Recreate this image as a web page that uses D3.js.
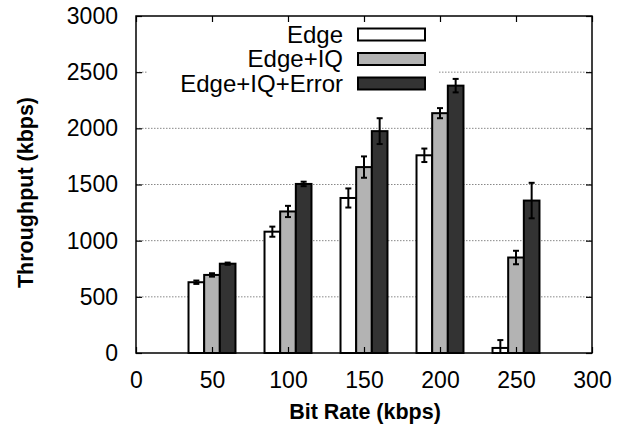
<!DOCTYPE html>
<html><head><meta charset="utf-8">
<script src="https://cdn.jsdelivr.net/npm/d3@7"></script>
<style>html,body{margin:0;padding:0;background:#fff;}svg{display:block;}</style>
</head><body>
<svg id="chart" width="618" height="428"></svg>
<script>
const categories = [50, 100, 150, 200, 250];
const seriesNames = ["Edge", "Edge+IQ", "Edge+IQ+Error"];
const edge = [630, 1080, 1380, 1760, 45];
const edgeErr = [15, 45, 85, 60, 70];
const edgeIQ = [695, 1260, 1655, 2135, 850];
const edgeIQErr = [15, 50, 95, 45, 60];
const edgeIQError = [795, 1505, 1975, 2380, 1357];
const edgeIQErrorErr = [10, 20, 115, 60, 158];
const xTicks = [0, 50, 100, 150, 200, 250, 300];
const yTicks = [0, 500, 1000, 1500, 2000, 2500, 3000];
const colors = ["#ffffff", "#b3b3b3", "#333333"];

const series = [
  {name: seriesNames[0], values: edge, errs: edgeErr, color: colors[0], off: -1},
  {name: seriesNames[1], values: edgeIQ, errs: edgeIQErr, color: colors[1], off: 0},
  {name: seriesNames[2], values: edgeIQError, errs: edgeIQErrorErr, color: colors[2], off: 1}
];

const L = 136, R = 592, T = 16, B = 353;
const barW = 10.3;
const x = d3.scaleLinear().domain([0, 300]).range([L, R]);
const y = d3.scaleLinear().domain([0, 3000]).range([B, T]);
const svg = d3.select("#chart");
const font = "'Liberation Sans', Arial, Helvetica, sans-serif";
const fs = 23;

// grid
svg.append("g").selectAll("line").data(yTicks.filter(v => v > 0 && v < 3000)).join("line")
  .attr("x1", L).attr("x2", R).attr("y1", d => y(d)).attr("y2", d => y(d))
  .attr("stroke", "#888").attr("stroke-width", 1).attr("stroke-dasharray", "1.5,1.5");

// legend background (covers grid)
const legend = svg.append("g");
legend.append("rect").attr("x", 148).attr("y", 20).attr("width", 290).attr("height", 76).attr("fill", "#fff");

// bars
series.forEach(s => {
  const g = svg.append("g");
  const data = categories.map((c, i) => ({c, v: s.values[i], e: s.errs[i]}));
  g.selectAll("rect").data(data).join("rect")
    .attr("x", d => x(d.c + s.off * barW - barW / 2))
    .attr("width", d => x(d.c + barW / 2) - x(d.c - barW / 2))
    .attr("y", d => y(d.v))
    .attr("height", d => y(0) - y(d.v))
    .attr("fill", s.color).attr("stroke", "#000").attr("stroke-width", 2);
  const eg = g.selectAll("g.err").data(data).join("g").attr("class", "err");
  eg.append("line")
    .attr("x1", d => x(d.c + s.off * barW)).attr("x2", d => x(d.c + s.off * barW))
    .attr("y1", d => y(Math.max(0, d.v - d.e))).attr("y2", d => y(d.v + d.e))
    .attr("stroke", "#000").attr("stroke-width", 2);
  [d => d.v - d.e, d => d.v + d.e].forEach(f => {
    eg.append("line")
      .attr("x1", d => x(d.c + s.off * barW) - 3).attr("x2", d => x(d.c + s.off * barW) + 3)
      .attr("y1", d => y(Math.max(0, f(d)))).attr("y2", d => y(Math.max(0, f(d))))
      .attr("stroke", "#000").attr("stroke-width", 2);
  });
});

// frame
svg.append("rect").attr("x", L).attr("y", T).attr("width", R - L).attr("height", B - T)
  .attr("fill", "none").attr("stroke", "#000").attr("stroke-width", 1.5);

// axes with mirrored inner ticks
const fmt = d3.format("d");
const axB = d3.axisBottom(x).tickValues(xTicks).tickSize(-6).tickPadding(19).tickFormat(fmt);
const axT = d3.axisTop(x).tickValues(xTicks).tickSize(-6).tickFormat("");
const axLft = d3.axisLeft(y).tickValues(yTicks).tickSize(-6).tickPadding(18).tickFormat(fmt);
const axR = d3.axisRight(y).tickValues(yTicks).tickSize(-6).tickFormat("");
[[axB, `translate(0,${B})`], [axT, `translate(0,${T})`], [axLft, `translate(${L},0)`], [axR, `translate(${R},0)`]].forEach(([a, t]) => {
  const g = svg.append("g").attr("transform", t).call(a);
  g.select(".domain").remove();
  g.selectAll(".tick line").attr("stroke", "#000").attr("stroke-width", 1.2);
  g.selectAll("text").attr("font-family", font).attr("font-size", fs).attr("fill", "#000");
});

// axis titles
svg.append("text").attr("x", (L + R) / 2 + 1).attr("y", 419).attr("text-anchor", "middle")
  .attr("font-family", font).attr("font-weight", "bold").attr("font-size", 21.5).text("Bit Rate (kbps)");
svg.append("text").attr("transform", `translate(33,${(T + B) / 2 + 8}) rotate(-90)`).attr("text-anchor", "middle")
  .attr("font-family", font).attr("font-weight", "bold").attr("font-size", 21.5).text("Throughput (kbps)");

// legend entries
series.forEach((s, i) => {
  const cy = 34.5 + i * 24.5;
  legend.append("text").attr("x", 343).attr("y", cy + 8).attr("text-anchor", "end")
    .attr("font-family", font).attr("font-size", 24).text(s.name);
  legend.append("rect").attr("x", 358).attr("y", cy - 6).attr("width", 67).attr("height", 12)
    .attr("fill", s.color).attr("stroke", "#000").attr("stroke-width", 2);
});
</script>
</body></html>
